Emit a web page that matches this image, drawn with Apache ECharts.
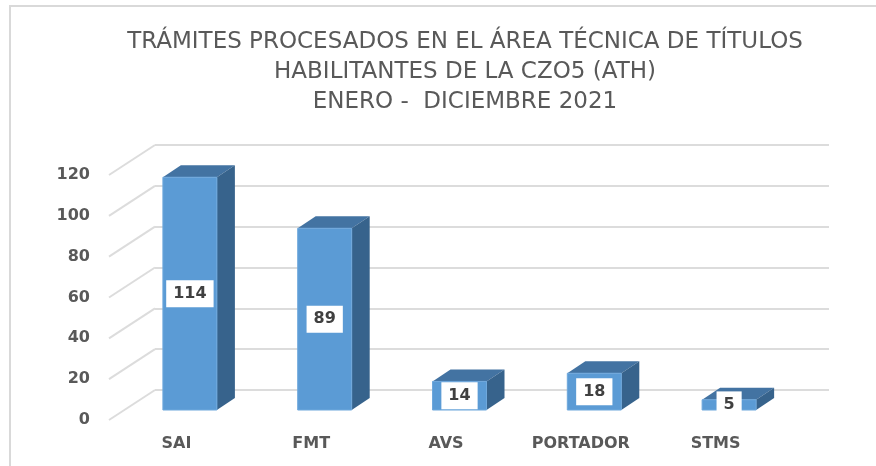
<!DOCTYPE html>
<html>
<head>
<meta charset="utf-8">
<script src="https://cdn.jsdelivr.net/npm/echarts@6/dist/echarts.min.js"></script>
<style>
	html, body { margin: 0; padding: 0; background: #ffffff; }
	#chart { width: 876px; height: 466px; }
</style>
</head>
<body>
<div id="chart"></div>
<script>
var categories = ['SAI', 'FMT', 'AVS', 'PORTADOR', 'STMS'];
var values = [114, 89, 14, 18, 5];
var yTicks = [0, 20, 40, 60, 80, 100, 120];

// perspective offsets (px)
var FRONT_DX = -32.5, FRONT_DY = 20;   // bar front face vs back wall
var DEPTH_DX = 18, DEPTH_DY = -12;     // bar depth
var FACE_W = 54;
var FLOOR_DX = -46, FLOOR_DY = 30;     // front edge of floor

var myChart = echarts.init(document.getElementById('chart'));

function renderBar(params, api) {
	var idx = api.value(0);
	var val = api.value(1);
	var top = api.coord([idx, val]);
	var base = api.coord([idx, 0]);
	var x0 = top[0] + FRONT_DX - FACE_W / 2;
	var x1 = x0 + FACE_W;
	var yt = top[1] + FRONT_DY;
	var yb = base[1] + FRONT_DY;
	return {
		type : 'group',
		children : [ {
			type : 'polygon',
			shape : { points : [ [ x0, yt ], [ x1, yt ], [ x1 + DEPTH_DX, yt + DEPTH_DY ], [ x0 + DEPTH_DX, yt + DEPTH_DY ] ] },
			style : { fill : '#4373A2' }
		}, {
			type : 'polygon',
			shape : { points : [ [ x1, yt ], [ x1 + DEPTH_DX, yt + DEPTH_DY ], [ x1 + DEPTH_DX, yb + DEPTH_DY ], [ x1, yb ] ] },
			style : { fill : '#37638C' }
		}, {
			type : 'rect',
			shape : { x : x0, y : yt, width : FACE_W, height : yb - yt },
			style : { fill : '#5B9BD5', stroke : '#6FA8DC', lineWidth : 1 }
		}, {
			type : 'text',
			x : (x0 + x1) / 2,
			y : (yt + yb) / 2,
			style : {
				text : String(val),
				align : 'center',
				verticalAlign : 'middle',
				fill : '#404040',
				font : 'bold 16px "DejaVu Sans"',
				backgroundColor : '#ffffff',
				padding : [ 6, 7, 5, 7 ]
			}
		} ]
	};
}

// diagonal floor lines + value labels at the front edge
function renderFloorLine(params, api) {
	var v = api.value(0);
	var p = api.coord([ 0, v ]);
	var x = params.coordSys.x;
	return {
		type : 'group',
		children : [ {
			type : 'line',
			shape : { x1 : x, y1 : p[1], x2 : x + FLOOR_DX, y2 : p[1] + FLOOR_DY },
			style : { stroke : '#dcdcdc', lineWidth : 2 }
		}, {
			type : 'text',
			x : x + FLOOR_DX - 19,
			y : p[1] + FLOOR_DY,
			style : {
				text : String(v),
				align : 'right',
				verticalAlign : 'middle',
				fill : '#595959',
				font : 'bold 16px "DejaVu Sans"'
			}
		} ]
	};
}

var option = {
	animation : false,
	backgroundColor : '#ffffff',
	title : {
		text : 'TRÁMITES PROCESADOS EN EL ÁREA TÉCNICA DE TÍTULOS\nHABILITANTES DE LA CZO5 (ATH)\nENERO -  DICIEMBRE 2021',
		left : 460,
		textAlign : 'center',
		top : 22,
		textStyle : {
			color : '#595959',
			fontFamily : 'DejaVu Sans',
			fontWeight : 'normal',
			fontSize : 23,
			lineHeight : 30
		}
	},
	graphic : [ {
		type : 'rect',
		shape : { x : 10, y : 6, width : 900, height : 500 },
		style : { fill : 'none', stroke : '#d9d9d9', lineWidth : 2 },
		silent : true
	} ],
	grid : {
		left : 155,
		right : 47,
		top : 145,
		bottom : 76
	},
	xAxis : {
		type : 'category',
		data : categories,
		axisLine : { show : false },
		axisTick : { show : false },
		axisLabel : {
			margin : 46,
			padding : [ 0, 92, 0, 0 ],
			color : '#595959',
			fontFamily : 'DejaVu Sans',
			fontWeight : 'bold',
			fontSize : 16
		}
	},
	yAxis : {
		type : 'value',
		min : 0,
		max : 120,
		interval : 20,
		axisLine : { show : false },
		axisTick : { show : false },
		splitLine : { lineStyle : { color : '#dcdcdc', width : 2 } },
		axisLabel : { show : false }
	},
	series : [ {
		name : 'floor',
		type : 'custom',
		renderItem : renderFloorLine,
		clip : false,
		silent : true,
		data : yTicks.map(function(v) { return [ v ]; }),
		encode : { y : 0 }
	}, {
		name : 'Trámites',
		type : 'custom',
		renderItem : renderBar,
		clip : false,
		data : values.map(function(v, i) { return [ i, v ]; }),
		encode : { x : 0, y : 1 }
	} ]
};

myChart.setOption(option);
</script>
</body>
</html>
